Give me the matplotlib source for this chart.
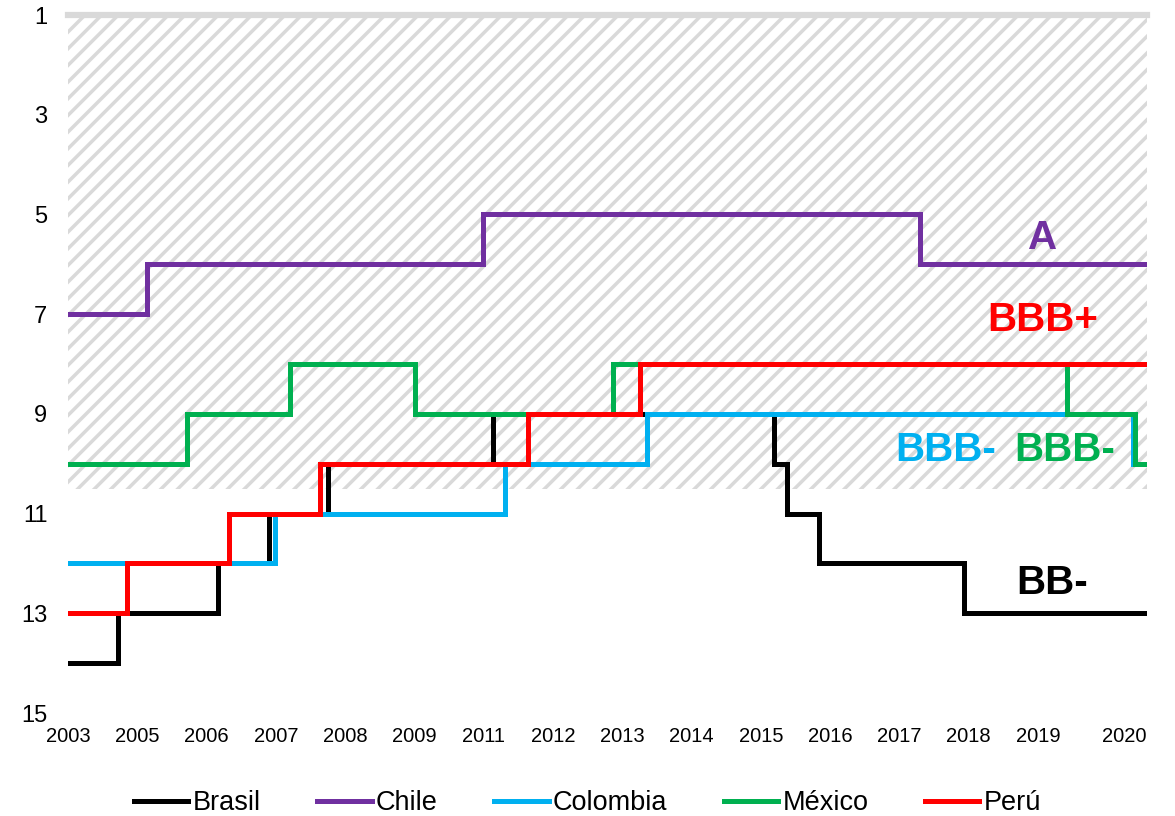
import numpy as np
import matplotlib.pyplot as plt

plt.rcParams['font.family'] = ['Liberation Sans', 'DejaVu Sans']
plt.rcParams['hatch.linewidth'] = 2.5

##################################################################
######################## DATA ####################################
##################################################################
# x positions are in tick units (0 = 2003 label, 1 = 2005 label, ...)
x_labels = ['2003', '2005', '2006', '2007', '2008', '2009', '2011', '2012',
            '2013', '2014', '2015', '2016', '2017', '2018', '2019', '2020']
x_ticks = [0, 1, 2, 3, 4, 5, 6, 7, 8, 9, 10, 11, 12, 13, 14, 15.25]
X_END = 15.57

brasil_x = [0, 0.72, 2.16, 2.90, 3.75, 6.13, 10.19, 10.38, 10.84, 12.93]
brasil_y = [14, 13, 12, 11, 10, 9, 10, 11, 12, 13]

chile_x = [0, 1.14, 5.99, 12.29]
chile_y = [7, 6, 5, 6]

colombia_x = [0, 2.99, 6.31, 8.35, 15.37]
colombia_y = [12, 11, 10, 9, 10]

mexico_x = [0, 1.72, 3.20, 5.01, 7.86, 14.42, 15.40]
mexico_y = [10, 9, 8, 9, 8, 9, 10]

peru_x = [0, 0.85, 2.32, 3.64, 6.64, 8.25]
peru_y = [13, 12, 11, 10, 9, 8]

series = [
    ('Brasil', brasil_x, brasil_y, '#000000'),
    ('Chile', chile_x, chile_y, '#7030A0'),
    ('Colombia', colombia_x, colombia_y, '#00B0F0'),
    ('México', mexico_x, mexico_y, '#00B050'),
    ('Perú', peru_x, peru_y, '#FF0000'),
]

# rating labels: text, x, y, colour
labels = [
    ('A', 14.07, 5.47, '#7030A0'),
    ('BBB+', 14.07, 7.12, '#FF0000'),
    ('BBB-', 12.66, 9.72, '#00B0F0'),
    ('BBB-', 14.39, 9.72, '#00B050'),
    ('BB-', 14.2, 12.39, '#000000'),
]

##################################################################
######################## PLOT ####################################
##################################################################
fig = plt.figure(figsize=(11.75, 8.16), dpi=100)
ax = fig.add_axes([0.058, 0.1262, 0.918, 0.8554])

# investment grade zone
ax.axhspan(1, 10.5, facecolor='white', edgecolor='#D9D9D9', hatch='//',
           linewidth=0, zorder=0)
ax.axhline(1, color='#D9D9D9', lw=4.5, clip_on=False, zorder=1)

for name, xs, ys, col in series:
    xx = list(xs) + [X_END]
    yy = list(ys) + [ys[-1]]
    ax.step(xx, yy, where='post', color=col, lw=3.6, label=name,
            solid_joinstyle='miter', zorder=3)

for txt, lx, ly, col in labels:
    ax.text(lx, ly, txt, color=col, fontsize=29, fontweight='bold',
            ha='center', va='center', zorder=4)

ax.set_xlim(0, X_END)
ax.set_ylim(15, 1)
ax.set_yticks(range(1, 16, 2))
ax.set_xticks(x_ticks)
ax.set_xticklabels(x_labels)
ax.tick_params(axis='y', length=0, pad=15, labelsize=17)
ax.tick_params(axis='x', length=0, pad=10, labelsize=14.5)
for s in ax.spines.values():
    s.set_visible(False)

fig.legend(loc='lower center', ncol=5, frameon=False, fontsize=19.5,
           handlelength=2.0, handletextpad=0.15, columnspacing=2.1,
           bbox_to_anchor=(0.5, -0.03))

fig.savefig('out.png', dpi=100)
